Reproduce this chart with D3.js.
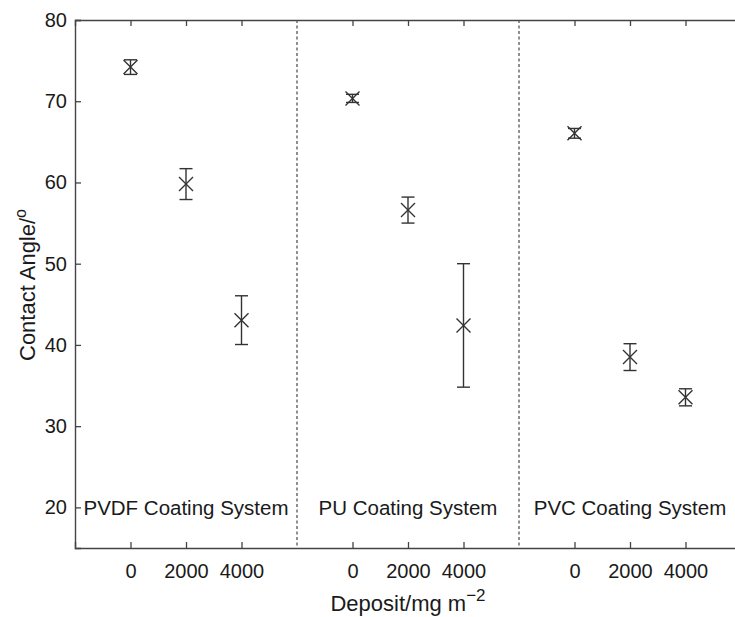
<!DOCTYPE html>
<html>
<head>
<meta charset="utf-8">
<script src="https://cdn.jsdelivr.net/npm/d3@7"></script>
<style>
  body { margin: 0; background: #fff; }
  svg { display: block; font-family: 'Liberation Sans', Arial, sans-serif; }
</style>
</head>
<body>
<svg id="chart" width="735" height="617"></svg>
<script>
  'use strict';

  var groups = ['PVDF Coating System', 'PU Coating System', 'PVC Coating System'];
  var deposits = [0, 2000, 4000];
  var groupWidth = 8000; // deposit units per panel

  // contact angle means and error half-widths, one array per coating
  var meanPVDF = [74.2, 59.8, 43.05];
  var meanPU = [70.35, 56.6, 42.4];
  var meanPVC = [66.05, 38.5, 33.55];
  var errPVDF = [0.9, 1.9, 3.0];
  var errPU = [0.5, 1.6, 7.6];
  var errPVC = [0.6, 1.65, 1.05];

  var yTicks = [20, 30, 40, 50, 60, 70, 80];

  var means = [meanPVDF, meanPU, meanPVC];
  var errs = [errPVDF, errPU, errPVC];

  var margin = { top: 20, left: 75 };
  var plotW = 666, plotH = 528;
  var ink = '#333';

  var svg = d3.select('#chart');
  var g = svg.append('g').attr('transform', 'translate(' + margin.left + ',' + margin.top + ')');

  var x = d3.scaleLinear().domain([-2000, groupWidth * groups.length - 2000]).range([0, plotW]);
  var y = d3.scaleLinear().domain([15, 80]).range([plotH, 0]);

  var points = [];
  groups.forEach(function(name, gi) {
    deposits.forEach(function(dep, di) {
      points.push({ pos: gi * groupWidth + dep, dep: dep, mean: means[gi][di], err: errs[gi][di] });
    });
  });

  var xTickPos = points.map(function(p) { return p.pos; });
  var xTickLabel = {};
  points.forEach(function(p) { xTickLabel[p.pos] = p.dep; });

  // axes (ticks inward, mirrored on top)
  var xAxis = d3.axisBottom(x).tickValues(xTickPos).tickSize(-6).tickPadding(16)
    .tickFormat(function(d) { return xTickLabel[d]; });
  var xTop = d3.axisTop(x).tickValues(xTickPos).tickSize(-6).tickFormat('');
  var yAxis = d3.axisLeft(y).tickValues(yTicks).tickSize(-6).tickPadding(8);

  function styleAxis(sel) {
    sel.select('.domain').attr('stroke', '#444').attr('stroke-width', 1.4);
    sel.selectAll('.tick line').attr('stroke', '#444').attr('stroke-width', 1.3);
    sel.selectAll('.tick text').attr('fill', '#1a1a1a').style('font-size', '20px')
      .style('font-family', "'Liberation Sans', Arial, sans-serif");
  }

  g.append('g').attr('transform', 'translate(0,' + plotH + ')').call(xAxis).call(styleAxis);
  g.append('g').call(xTop).call(styleAxis);
  g.append('g').call(yAxis).call(styleAxis);
  g.append('g').attr('transform', 'translate(' + plotW + ',0)')
    .call(d3.axisRight(y).tickValues(yTicks).tickSize(-6).tickFormat('')).call(styleAxis);

  // panel dividers
  g.selectAll('line.divider')
    .data(d3.range(1, groups.length))
    .enter().append('line')
    .attr('class', 'divider')
    .attr('x1', function(i) { return x(i * groupWidth - 2000); })
    .attr('x2', function(i) { return x(i * groupWidth - 2000); })
    .attr('y1', 0)
    .attr('y2', plotH)
    .attr('stroke', '#555')
    .attr('stroke-width', 1.3)
    .attr('stroke-dasharray', '3,2.5');

  // panel names
  g.selectAll('text.group')
    .data(groups)
    .enter().append('text')
    .attr('class', 'group')
    .attr('x', function(d, i) { return x(i * groupWidth + 2000); })
    .attr('y', y(20))
    .attr('dy', '0.35em')
    .attr('text-anchor', 'middle')
    .attr('fill', '#1a1a1a')
    .style('font-size', '20.5px')
    .text(function(d) { return d; });

  // error bars and cross markers
  var capW = 6.5, arm = 7;
  var pt = g.selectAll('g.pt').data(points).enter().append('g')
    .attr('class', 'pt')
    .attr('stroke', ink)
    .attr('stroke-width', 1.4)
    .attr('fill', 'none');

  pt.append('line')
    .attr('x1', function(d) { return x(d.pos); })
    .attr('x2', function(d) { return x(d.pos); })
    .attr('y1', function(d) { return y(d.mean + d.err); })
    .attr('y2', function(d) { return y(d.mean - d.err); });
  pt.append('line')
    .attr('x1', function(d) { return x(d.pos) - capW; })
    .attr('x2', function(d) { return x(d.pos) + capW; })
    .attr('y1', function(d) { return y(d.mean + d.err); })
    .attr('y2', function(d) { return y(d.mean + d.err); });
  pt.append('line')
    .attr('x1', function(d) { return x(d.pos) - capW; })
    .attr('x2', function(d) { return x(d.pos) + capW; })
    .attr('y1', function(d) { return y(d.mean - d.err); })
    .attr('y2', function(d) { return y(d.mean - d.err); });
  pt.append('path')
    .attr('d', function(d) {
      var cx = x(d.pos), cy = y(d.mean);
      return 'M' + (cx - arm) + ',' + (cy - arm) + 'L' + (cx + arm) + ',' + (cy + arm) +
        'M' + (cx - arm) + ',' + (cy + arm) + 'L' + (cx + arm) + ',' + (cy - arm);
    });

  // axis titles
  var yLabel = svg.append('text')
    .attr('transform', 'translate(35,' + 285 + ') rotate(-90)')
    .attr('text-anchor', 'middle')
    .attr('fill', '#1a1a1a')
    .style('font-size', '22px');
  yLabel.append('tspan').text('Contact Angle/');
  yLabel.append('tspan').attr('dy', -9).style('font-size', '16px').text('o');

  var xLabel = svg.append('text')
    .attr('x', margin.left + x(10000))
    .attr('y', 611)
    .attr('text-anchor', 'middle')
    .attr('fill', '#1a1a1a')
    .style('font-size', '22px');
  xLabel.append('tspan').text('Deposit/mg m');
  xLabel.append('tspan').attr('dy', -10).style('font-size', '17px').text('\u22122');
</script>
</body>
</html>
